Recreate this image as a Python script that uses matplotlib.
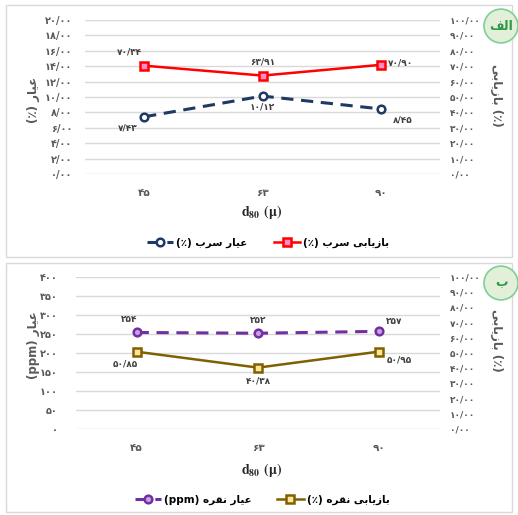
import numpy as np
import matplotlib
matplotlib.use("Agg")
from matplotlib import pyplot as plt
from matplotlib.patches import Rectangle, Circle

plt.rcParams['font.family'] = ['DejaVu Sans']
plt.rcParams['mathtext.fontset'] = 'stix'

# data
sizes = ['45', '63', '90']
pb_grade = [7.43, 10.12, 8.45]          # عیار سرب (%)
pb_recovery = [70.34, 63.91, 70.90]     # بازیابی سرب (%)
ag_grade = [254, 252, 257]              # عیار نقره (ppm)
ag_recovery = [50.85, 40.38, 50.95]     # بازیابی نقره (%)

# simple persian shaping (presentation forms) for matplotlib
FORMS = {
    'ا': ('\ufe8d', '\ufe8e', None, None),
    'ب': ('\ufe8f', '\ufe90', '\ufe91', '\ufe92'),
    'ر': ('\ufead', '\ufeae', None, None),
    'ز': ('\ufeaf', '\ufeb0', None, None),
    'س': ('\ufeb1', '\ufeb2', '\ufeb3', '\ufeb4'),
    'ع': ('\ufec9', '\ufeca', '\ufecb', '\ufecc'),
    'ف': ('\ufed1', '\ufed2', '\ufed3', '\ufed4'),
    'ق': ('\ufed5', '\ufed6', '\ufed7', '\ufed8'),
    'ل': ('\ufedd', '\ufede', '\ufedf', '\ufee0'),
    'ن': ('\ufee5', '\ufee6', '\ufee7', '\ufee8'),
    'ه': ('\ufee9', '\ufeea', '\ufeeb', '\ufeec'),
    'ی': ('\ufbfc', '\ufbfd', '\ufbfe', '\ufbff'),
}


def shape(word):
    out = []
    for i, ch in enumerate(word):
        f = FORMS.get(ch)
        if f is None:
            out.append(ch)
            continue
        prev = word[i - 1] if i > 0 else ''
        nxt = word[i + 1] if i + 1 < len(word) else ''
        jp = prev in FORMS and FORMS[prev][2] is not None
        jn = nxt in FORMS and f[2] is not None
        if jp and jn:
            out.append(f[3])
        elif jp:
            out.append(f[1])
        elif jn:
            out.append(f[2])
        else:
            out.append(f[0])
    return ''.join(reversed(out))


def fa(s):
    return ' '.join(shape(w) for w in reversed(s.split()))


DIG = str.maketrans('0123456789', '۰۱۲۳۴۵۶۷۸۹')


def num(v, dec=2):
    if dec == 0:
        return str(int(round(v))).translate(DIG)
    return ('{:.%df}' % dec).format(v).replace('.', '/').translate(DIG)


W, H = 518, 515
fig = plt.figure(figsize=(W / 100, H / 100), dpi=100)


def fx(px):
    return px / W


def fy(py):
    return 1 - py / H


# panel frames
for top, bot in [(5, 257), (263, 512)]:
    fig.patches.append(Rectangle((fx(6), fy(bot)), fx(506), (bot - top) / H,
                                 transform=fig.transFigure, fill=False,
                                 edgecolor='#d9d9d9', lw=1))

tick_c = '#595959'
lab_c = '#404040'
x = np.arange(len(sizes))


def style(ax, axr, lpad):
    ax.set_xlim(-0.5, 2.5)
    ax.set_xticks(x)
    ax.set_xticklabels([s.translate(DIG) for s in sizes], fontsize=7.5,
                       fontweight='bold', color=tick_c)
    ax.tick_params(axis='x', length=0, pad=10)
    ax.tick_params(axis='y', length=0, pad=lpad, labelsize=7, labelcolor=tick_c)
    axr.tick_params(axis='y', length=0, pad=7, labelsize=6.5, labelcolor=tick_c)
    for lab in ax.get_yticklabels() + axr.get_yticklabels():
        lab.set_fontweight('bold')
    ax.grid(axis='y', color='#d9d9d9', lw=1)
    ax.set_axisbelow(True)
    for a in (ax, axr):
        for sp in a.spines.values():
            sp.set_visible(False)


def lbl(ax, xv, yv, text, dx, dy):
    ax.annotate(text, (xv, yv), xytext=(dx, dy), textcoords='offset pixels',
                ha='center', va='center', fontsize=6.5, fontweight='bold',
                color=lab_c)


# ---- top panel ----
ax1 = fig.add_axes([fx(85), fy(174), fx(355), 154 / H])
ax1r = ax1.twinx()
ax1.set_ylim(0, 20)
ax1.set_yticks(np.arange(0, 21, 2))
ax1.set_yticklabels([num(v) for v in np.arange(0, 21, 2)])
ax1r.set_ylim(0, 100)
ax1r.set_yticks(np.arange(0, 101, 10))
ax1r.set_yticklabels([num(v) for v in np.arange(0, 101, 10)])
style(ax1, ax1r, 9)

l1, = ax1.plot(x, pb_grade, color='#1f3864', lw=2.2, dashes=(4, 2.5),
               marker='o', ms=5.5, mfc='white', mec='#1f3864', mew=1.8)
l2, = ax1r.plot(x, pb_recovery, color='#ff0000', lw=1.8,
                marker='s', ms=6, mfc='#ff8cc8', mec='#ff0000', mew=1.8)

for xi, v, (dx, dy) in zip(x, pb_grade, [(-16, -11), (0, -11), (22, -11)]):
    lbl(ax1, xi, v, num(v), dx, dy)
for xi, v, (dx, dy) in zip(x, pb_recovery, [(-15, 14), (0, 14), (20, 2)]):
    lbl(ax1r, xi, v, num(v), dx, dy)

fig.text(fx(33), fy(100), '(٪) ' + fa('عیار'), rotation=90, ha='center',
         va='center', fontsize=8.5, fontweight='bold', color=tick_c)
fig.text(fx(496), fy(95), fa('بازیابی') + ' (٪)', rotation=270, ha='center',
         va='center', fontsize=8.5, fontweight='bold', color=tick_c)
fig.text(fx(262), fy(212), r'$\mathbf{d_{80}}$ $\mathbf{(\mu)}$', ha='center',
         va='center', fontsize=10, color='#262626')
fig.legend([l1, l2], ['(٪) ' + fa('عیار سرب'), '(٪) ' + fa('بازیابی سرب')],
           loc='center', bbox_to_anchor=(fx(268), fy(243)), ncol=2, frameon=False,
           prop={'size': 7.5, 'weight': 'bold'}, handlelength=2.5,
           columnspacing=2.5, handletextpad=0.3)

# ---- bottom panel ----
ax2 = fig.add_axes([fx(76), fy(429), fx(364), 152 / H])
ax2r = ax2.twinx()
ax2.set_ylim(0, 400)
ax2.set_yticks(np.arange(0, 401, 50))
ax2.set_yticklabels([num(v, 0) for v in np.arange(0, 401, 50)])
ax2r.set_ylim(0, 100)
ax2r.set_yticks(np.arange(0, 101, 10))
ax2r.set_yticklabels([num(v) for v in np.arange(0, 101, 10)])
style(ax2, ax2r, 13)

l3, = ax2.plot(x, ag_grade, color='#7030a0', lw=2.2, dashes=(4, 2.5),
               marker='o', ms=5.5, mfc='#c9a0e6', mec='#7030a0', mew=1.8)
l4, = ax2r.plot(x, ag_recovery, color='#806000', lw=1.8,
                marker='s', ms=6, mfc='#ffe699', mec='#806000', mew=1.8)

for xi, v, (dx, dy) in zip(x, ag_grade, [(-7, 13), (0, 13), (15, 10)]):
    lbl(ax2, xi, v, num(v, 0), dx, dy)
for xi, v, (dx, dy) in zip(x, ag_recovery, [(-11, -12), (0, -13), (20, -8)]):
    lbl(ax2r, xi, v, num(v), dx, dy)

fig.text(fx(33), fy(345), '(ppm) ' + fa('عیار'), rotation=90, ha='center',
         va='center', fontsize=8.5, fontweight='bold', color=tick_c)
fig.text(fx(496), fy(340), fa('بازیابی') + ' (٪)', rotation=270, ha='center',
         va='center', fontsize=8.5, fontweight='bold', color=tick_c)
fig.text(fx(262), fy(470), r'$\mathbf{d_{80}}$ $\mathbf{(\mu)}$', ha='center',
         va='center', fontsize=10, color='#262626')
fig.legend([l3, l4], ['(ppm) ' + fa('عیار نقره'), '(٪) ' + fa('بازیابی نقره')],
           loc='center', bbox_to_anchor=(fx(262), fy(500)), ncol=2, frameon=False,
           prop={'size': 7.5, 'weight': 'bold'}, handlelength=2.5,
           columnspacing=2.5, handletextpad=0.3)

# badges
for cy, txt in [(26, fa('الف')), (283, fa('ب'))]:
    fig.patches.append(Circle((fx(501), fy(cy)), 17 / W, transform=fig.transFigure,
                              facecolor='#e2f0d9', edgecolor='#7fcf95', lw=1.2))
    fig.text(fx(501), fy(cy), txt, ha='center', va='center', fontsize=9,
             fontweight='bold', color='#2e9a48')

fig.savefig('out.png', dpi=100)
